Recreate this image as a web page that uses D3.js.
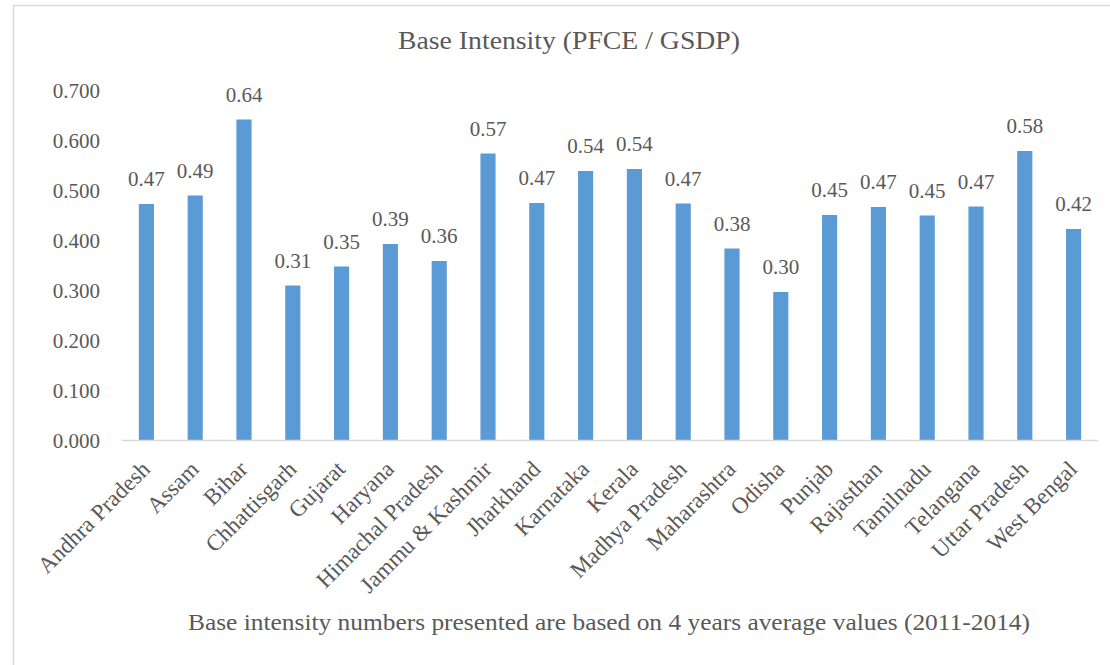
<!DOCTYPE html>
<html>
<head>
<meta charset="utf-8">
<script src="https://cdn.jsdelivr.net/npm/d3@7"></script>
<style>
  html, body { margin: 0; padding: 0; background: #fff; }
  svg { display: block; font-family: "Liberation Serif", "DejaVu Serif", serif; }
</style>
</head>
<body>
<svg id="chart" width="1110" height="665"></svg>
<script>
const states = ["Andhra Pradesh","Assam","Bihar","Chhattisgarh","Gujarat","Haryana","Himachal Pradesh","Jammu & Kashmir","Jharkhand","Karnataka","Kerala","Madhya Pradesh","Maharashtra","Odisha","Punjab","Rajasthan","Tamilnadu","Telangana","Uttar Pradesh","West Bengal"];
const intensity = [0.472,0.489,0.641,0.309,0.347,0.392,0.358,0.573,0.474,0.538,0.542,0.473,0.383,0.296,0.450,0.466,0.449,0.467,0.578,0.422];
const yTicks = [0,0.1,0.2,0.3,0.4,0.5,0.6,0.7];
const titleText = "Base Intensity (PFCE / GSDP)";
const noteText = "Base intensity numbers presented are based on 4 years average values (2011-2014)";

const FONT = '"Liberation Serif", "DejaVu Serif", serif';
const INK = "#595959";
const svg = d3.select("#chart");

// outer chart border
svg.append("rect")
  .attr("x", 13.5).attr("y", 5.5)
  .attr("width", 1200).attr("height", 1000)
  .attr("fill", "none").attr("stroke", "#d9d9d9").attr("stroke-width", 1.5);

const x = d3.scaleBand().domain(states).range([122, 1098]).paddingInner(0.69).paddingOuter(0.345);
const y = d3.scaleLinear().domain([0, 0.7]).range([440, 90]);

// bars
svg.append("g").selectAll("rect").data(states).join("rect")
  .attr("x", d => x(d))
  .attr("width", x.bandwidth())
  .attr("y", (d, i) => y(intensity[i]))
  .attr("height", (d, i) => y(0) - y(intensity[i]))
  .attr("fill", "#5b9bd5");

// value labels
svg.append("g").selectAll("text").data(states).join("text")
  .attr("x", d => x(d) + x.bandwidth() / 2)
  .attr("y", (d, i) => y(intensity[i]) - 18)
  .attr("text-anchor", "middle")
  .style("font-family", FONT).style("font-size", "21px").style("fill", INK)
  .text((d, i) => intensity[i].toFixed(2));

// y axis (labels only)
const yAxis = d3.axisLeft(y).tickValues(yTicks).tickFormat(d3.format(".3f")).tickSize(0).tickPadding(0);
const gy = svg.append("g").attr("transform", "translate(100,0)").call(yAxis)
  .attr("font-family", null).attr("font-size", null);
gy.select(".domain").remove();
gy.selectAll("text")
  .style("font-family", FONT).style("font-size", "21px").style("fill", INK)
  .attr("dy", "0.34em");

// x axis
const xAxis = d3.axisBottom(x).tickSize(0).tickSizeOuter(0).tickPadding(0);
const gx = svg.append("g").attr("transform", "translate(0,440.5)").call(xAxis)
  .attr("font-family", null).attr("font-size", null);
gx.select(".domain").attr("stroke", "#d9d9d9").attr("stroke-width", 1.5)
  .attr("d", "M122,0H1098");
gx.selectAll(".tick text")
  .style("font-family", FONT).style("font-size", "23px").style("fill", INK)
  .attr("text-anchor", "end")
  .attr("y", 0).attr("dy", 0)
  .attr("transform", "translate(5,30) rotate(-45)");

// title
svg.append("text")
  .attr("x", 569).attr("y", 49)
  .attr("text-anchor", "middle")
  .style("font-family", FONT).style("font-size", "25px").style("fill", INK)
  .attr("textLength", 342).attr("lengthAdjust", "spacingAndGlyphs")
  .text(titleText);

// footnote
svg.append("text")
  .attr("x", 609).attr("y", 630)
  .attr("text-anchor", "middle")
  .style("font-family", FONT).style("font-size", "24px").style("fill", INK)
  .attr("textLength", 842).attr("lengthAdjust", "spacingAndGlyphs")
  .text(noteText);
</script>
</body>
</html>
